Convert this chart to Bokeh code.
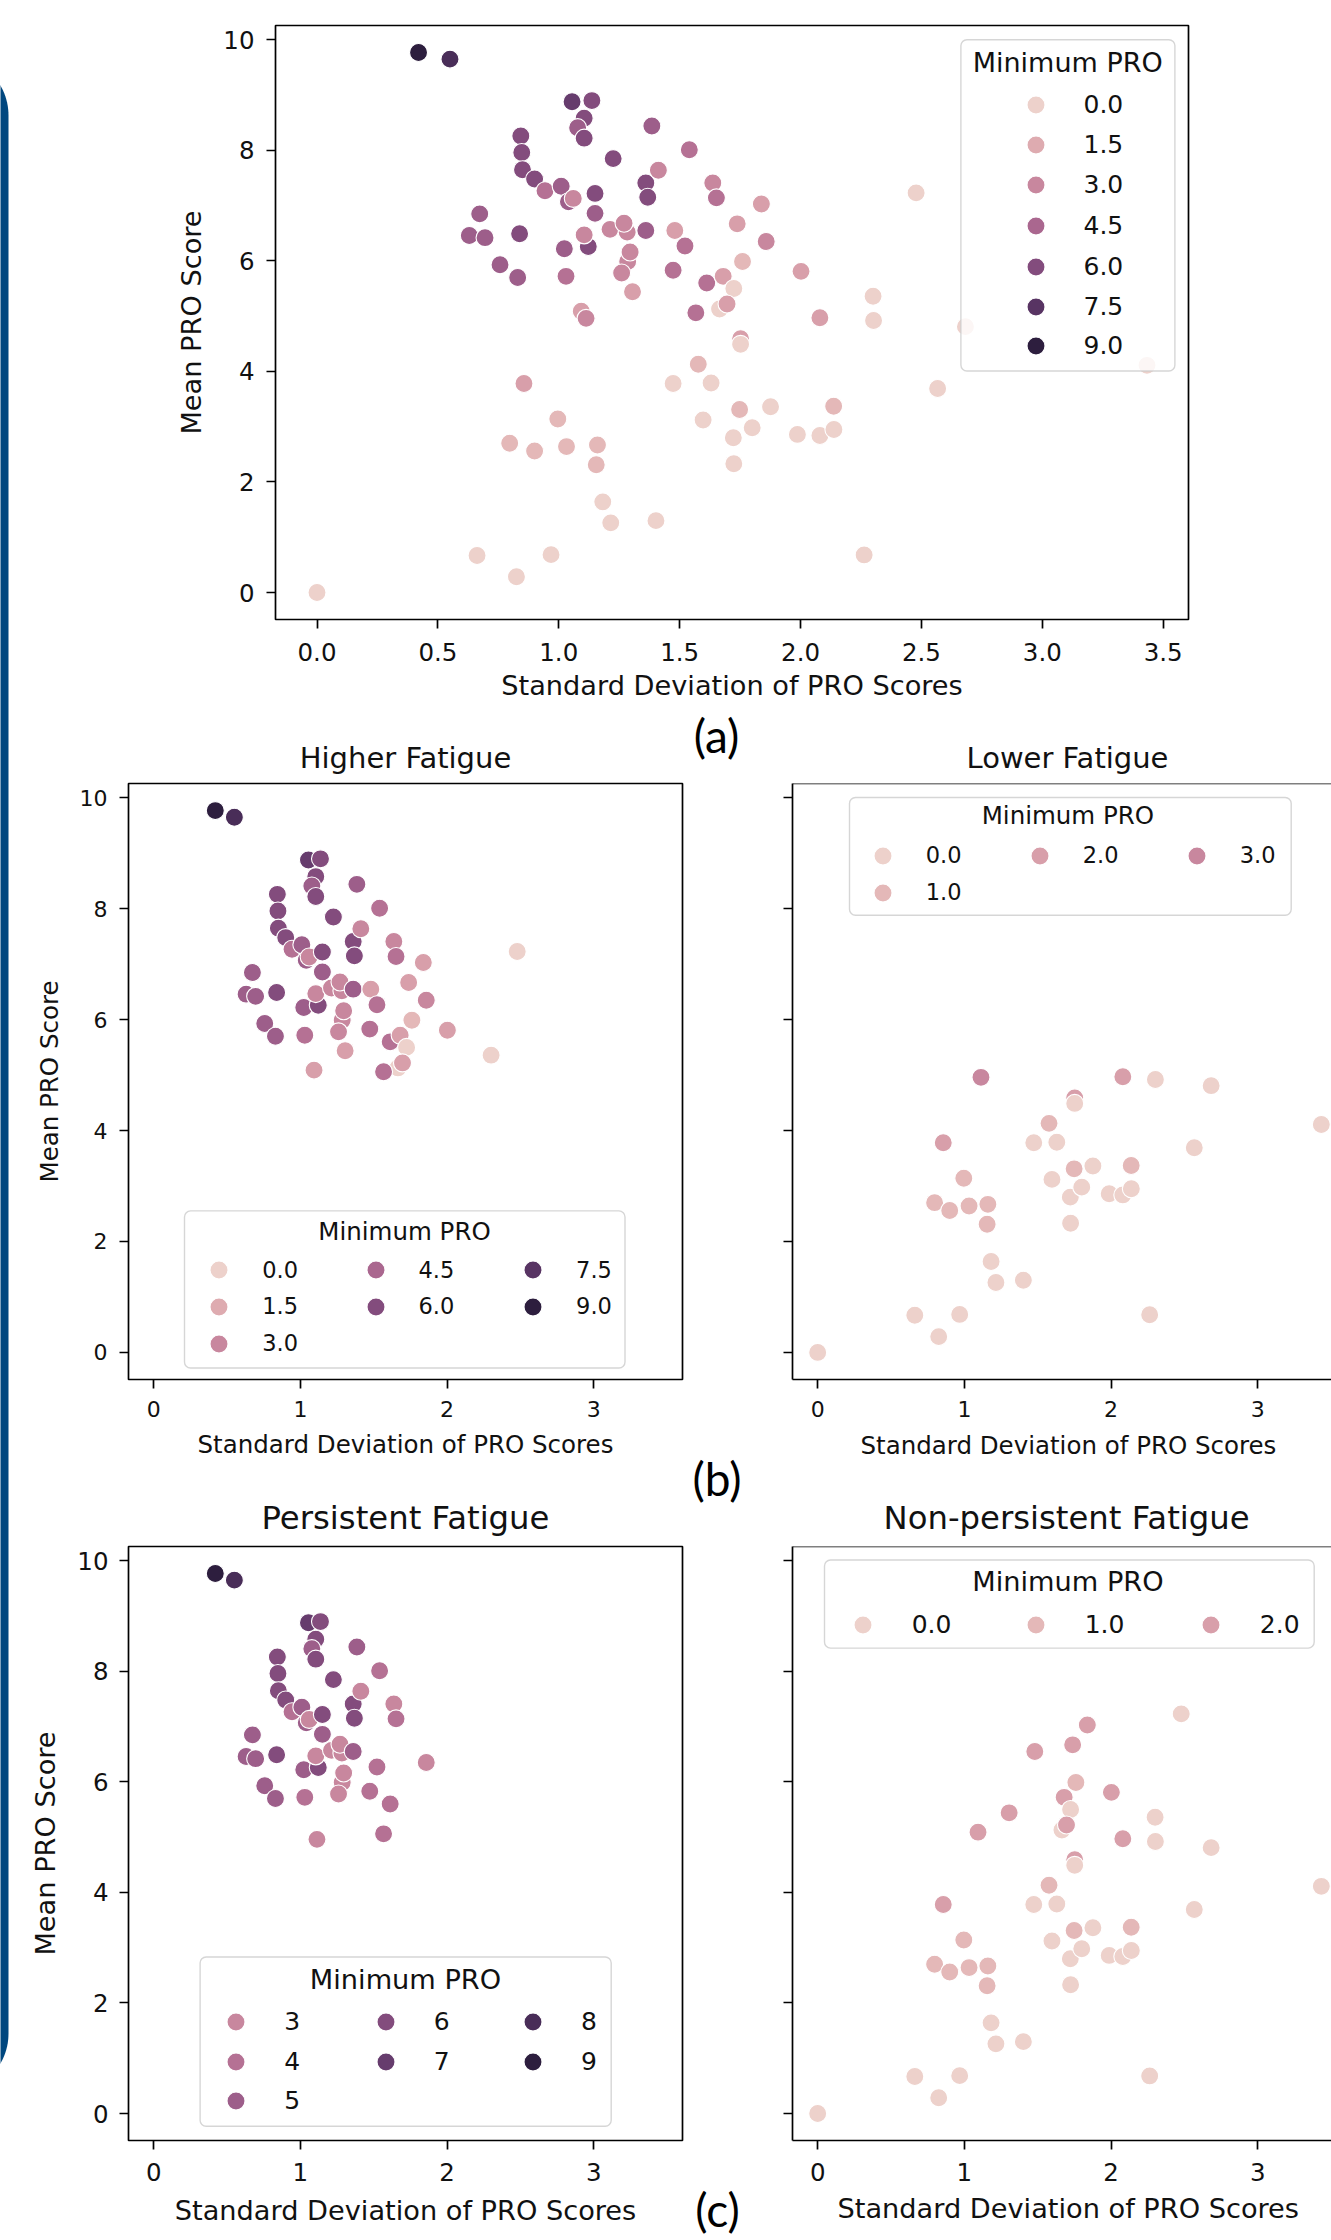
import numpy as np
from bokeh.plotting import figure
from bokeh.models import (Range1d, FixedTicker, Legend, LegendItem, Label,
                          BoxAnnotation, Span, ColumnDataSource, Title)
from bokeh.layouts import row, column
from bokeh.embed import file_html
from bokeh.resources import INLINE

# ------------------------------------------------------------------ data
sd_vals = [
    0.000, 0.662, 0.825, 0.968, 1.182, 1.215, 1.402, 2.263,
    0.797, 0.900, 1.032, 1.160, 1.155, 0.996, 0.856, 1.473,
    1.630, 1.577, 1.597, 1.748, 1.876, 1.722, 1.800, 1.724,
    1.987, 2.080, 2.138, 2.137, 2.567, 3.433, 1.752, 1.752,
    2.080, 2.302, 2.682,
    0.420, 0.550, 1.055, 1.137, 1.105, 1.078, 1.105, 0.843,
    0.847, 0.850, 0.900, 0.943, 1.010, 1.040, 1.060, 1.150,
    1.150, 0.673, 0.630, 0.695, 0.838, 0.757, 0.830, 1.023,
    1.122, 1.105, 1.030, 1.093, 1.113, 1.225, 1.212, 1.283,
    1.270, 1.285, 1.295, 1.260, 1.305, 1.360, 1.368, 1.360,
    1.385, 1.412, 1.540, 1.480, 1.522, 1.473, 1.637, 1.652,
    1.838, 1.738, 1.858, 1.760, 2.002, 1.612, 1.680, 1.724,
    1.665, 1.696, 1.567, 2.300, 2.478,
]
mean_vals = [
    0.00, 0.67, 0.285, 0.685, 1.64, 1.26, 1.30, 0.68,
    2.70, 2.56, 2.64, 2.67, 2.31, 3.14, 3.78, 3.78,
    3.79, 4.13, 3.12, 3.31, 3.36, 2.80, 2.98, 2.33,
    2.86, 2.84, 2.95, 3.37, 3.69, 4.11, 4.59, 4.49,
    4.97, 4.92, 4.81,
    9.77, 9.65, 8.88, 8.90, 8.58, 8.41, 8.22, 8.26,
    7.96, 7.65, 7.48, 7.27, 7.35, 7.07, 7.13, 7.22,
    6.86, 6.85, 6.46, 6.42, 6.49, 5.93, 5.70, 6.22,
    6.26, 6.47, 5.72, 5.09, 4.96, 7.85, 6.57, 6.52,
    6.68, 5.99, 6.16, 5.78, 5.44, 7.41, 7.15, 6.55,
    8.44, 7.64, 8.01, 6.55, 6.27, 5.83, 7.41, 7.14,
    7.03, 6.67, 6.35, 5.99, 5.81, 5.60, 5.72, 5.50,
    5.13, 5.22, 5.06, 5.36, 7.23,
]
min_vals = [
    0, 0, 0, 0, 0, 0, 0, 0,
    1, 1, 1, 1, 1, 1, 2, 0,
    0, 1, 0, 1, 0, 0, 0, 0,
    0, 0, 0, 1, 0, 0, 2, 0,
    2, 0, 0,
    9, 8, 7, 6, 6, 5, 6, 6,
    6, 6, 6, 4, 5, 5, 3, 6,
    5, 5, 5, 5, 6, 5, 5, 5,
    6, 3, 4, 2, 3, 6, 3, 3,
    3, 3, 3, 3, 2, 6, 6, 5,
    5, 3, 4, 2, 4, 4, 3, 4,
    2, 2, 3, 1, 2, 4, 2, 0,
    0, 2, 4, 0, 0,
]

HUE_NORM = (0.0, 9.0)
HIGHER_CUT = 5.0      # mean PRO score splitting higher / lower fatigue
PERSIST_CUT = 3       # minimum PRO score for persistent fatigue

x_ticks_a = [0.0, 0.5, 1.0, 1.5, 2.0, 2.5, 3.0, 3.5]
x_tick_labels_a = ["0.0", "0.5", "1.0", "1.5", "2.0", "2.5", "3.0", "3.5"]
x_ticks_bc = [0, 1, 2, 3]
x_tick_labels_bc = ["0", "1", "2", "3"]
y_ticks = [0, 2, 4, 6, 8, 10]
y_tick_labels = ["0", "2", "4", "6", "8", "10"]

legend_vals_full = [0.0, 1.5, 3.0, 4.5, 6.0, 7.5, 9.0]
legend_labels_full = ["0.0", "1.5", "3.0", "4.5", "6.0", "7.5", "9.0"]
legend_vals_lower = [0.0, 1.0, 2.0, 3.0]
legend_labels_lower = ["0.0", "1.0", "2.0", "3.0"]
legend_vals_persist = [3, 4, 5, 6, 7, 8, 9]
legend_labels_persist = ["3", "4", "5", "6", "7", "8", "9"]
legend_vals_nonpersist = [0.0, 1.0, 2.0]
legend_labels_nonpersist = ["0.0", "1.0", "2.0"]

x_label = "Standard Deviation of PRO Scores"
y_label = "Mean PRO Score"
legend_title = "Minimum PRO"
title_higher, title_lower = "Higher Fatigue", "Lower Fatigue"
title_persist, title_nonpersist = "Persistent Fatigue", "Non-persistent Fatigue"
panel_tags = ["(a)", "(b)", "(c)"]

# ------------------------------------------------------------------ style
FONT = "DejaVu Sans"
TAG_FONT = "Lato"
TXT = "#111111"
MS, MLW = 18, 1.1
LW = 1.7
GH = 45


def ch_hex(v):
    """seaborn default sequential cubehelix ('ch:') palette."""
    t = (v - HUE_NORM[0]) / (HUE_NORM[1] - HUE_NORM[0])
    x = 0.85 + (0.15 - 0.85) * t
    a = 0.8 * x * (1 - x) / 2
    phi = 2 * np.pi * (0.4 * x)
    c, s = np.cos(phi), np.sin(phi)
    rgb = (x + a * (-0.14861 * c + 1.78277 * s),
           x + a * (-0.29227 * c - 0.90649 * s),
           x + a * (1.97294 * c))
    return "#%02x%02x%02x" % tuple(int(round(255 * min(1, max(0, u)))) for u in rgb)


sd = np.array(sd_vals, float)
mn = np.array(mean_vals, float)
mi = np.array(min_vals, float)
colors = np.array([ch_hex(v) for v in mi])


def pad(a):
    lo, hi = a.min(), a.max()
    d = 0.05 * (hi - lo)
    return (lo - d, hi + d)


XR = pad(sd)
YR = pad(mn)
XR_CLIP = (XR[0], XR[0] + 539 * (XR[1] - XR[0]) / 554)

# page geometry (pixels): figure box and plot frame
G = {
    "a": dict(left=26, top=0, w=1305, h=708, fl=275, ft=25, fw=913, fh=594, xr=XR),
    "bl": dict(left=26, top=708, w=660, h=778, fl=128, ft=783, fw=554, fh=596, xr=XR),
    "br": dict(left=760, top=708, w=571, h=778, fl=792, ft=783, fw=539, fh=596, xr=XR_CLIP),
    "cl": dict(left=26, top=1486, w=660, h=754, fl=128, ft=1546, fw=554, fh=594, xr=XR),
    "cr": dict(left=760, top=1486, w=571, h=754, fl=792, ft=1546, fw=539, fh=594, xr=XR_CLIP),
}
STY = {
    "a": dict(tick=24.5, lab=27.2, xts=14, yts=12, xls=6, yls=13, title=0, tso=8, rls=0),
    "b": dict(tick=22, lab=24.5, xts=12, yts=12, xls=10, yls=13, title=29, tso=18, rls=18),
    "c": dict(tick=24.5, lab=27.2, xts=13, yts=11, xls=11, yls=13, title=32.3, tso=20, rls=15),
}


def px2x(g, px):
    x0, x1 = g["xr"]
    return x0 + (px - g["fl"]) * (x1 - x0) / g["fw"]


def px2y(g, py):
    return YR[1] - (py - g["ft"]) * (YR[1] - YR[0]) / g["fh"]


def style_axis(ax, st, ticks, labels, standoff, show_labels=True, line=False):
    ax.ticker = FixedTicker(ticks=ticks)
    ax.major_tick_line_color = "black"
    ax.major_tick_line_width = LW
    ax.major_tick_out = 9
    ax.major_tick_in = 0
    ax.minor_tick_line_color = None
    ax.axis_line_color = "black" if line else None
    ax.axis_line_width = LW
    ax.major_label_text_font = FONT
    ax.major_label_text_font_size = f"{st['tick']}px"
    if show_labels:
        ax.major_label_overrides = {t: l for t, l in zip(ticks, labels)}
        ax.major_label_text_color = TXT
        ax.major_label_standoff = standoff
    else:
        ax.major_label_overrides = {t: "" for t in ticks}
        ax.major_label_text_color = None
        ax.major_label_standoff = 0
    ax.axis_label_text_font = FONT
    ax.axis_label_text_font_style = "normal"
    ax.axis_label_text_color = TXT
    ax.axis_label_text_font_size = f"{st['lab']}px"


def panel(key, skey, mask, xticks, xlabels, left_side, title=None,
          title_offset=0, xlabel_offset=0):
    g, st = G[key], STY[skey]
    ml = g["fl"] - g["left"]
    mt = g["ft"] - g["top"]
    p = figure(width=g["w"], height=g["h"], output_backend="svg", toolbar_location=None,
               x_range=Range1d(*g["xr"]), y_range=Range1d(*YR),
               min_border_left=ml, min_border_right=g["w"] - ml - g["fw"],
               min_border_top=mt, min_border_bottom=g["h"] - mt - g["fh"])
    p.xgrid.visible = False
    p.ygrid.visible = False
    p.background_fill_color = "white"
    p.border_fill_color = "white"
    if title:
        p.title.text = title
        p.title.align = "center" if left_side else "left"
        p.title.offset = title_offset
        p.title.standoff = st["tso"]
        p.title.text_font = FONT
        p.title.text_font_size = f"{st['title']}px"
        p.title.text_font_style = "normal"
        p.title.text_color = TXT
    xa, ya = p.xaxis[0], p.yaxis[0]
    if left_side:
        p.outline_line_color = "black"
        p.outline_line_width = LW
        p.outline_line_alpha = 1.0
        style_axis(xa, st, xticks, xlabels, st["xts"])
        style_axis(ya, st, y_ticks, y_tick_labels, st["yts"])
        xa.axis_label = x_label
        xa.axis_label_standoff = st["xls"]
        ya.axis_label = y_label
        ya.axis_label_standoff = st["yls"]
    else:
        p.outline_line_color = None
        style_axis(xa, st, xticks, xlabels, st["xts"], line=True)
        style_axis(ya, st, y_ticks, y_tick_labels, 0, show_labels=False, line=True)
        p.add_layout(Span(location=YR[1], dimension="width", line_color="black", line_width=LW))
        p.add_layout(Title(text=x_label, align="left", offset=xlabel_offset, standoff=st["rls"],
                           text_font=FONT, text_font_size=f"{st['lab']}px",
                           text_font_style="normal", text_color=TXT), "below")
    idx = np.where(mask)[0]
    src = ColumnDataSource(dict(x=sd[idx], y=mn[idx], c=list(colors[idx])))
    p.scatter("x", "y", source=src, size=MS, fill_color="c", line_color="white", line_width=MLW)
    return p


def add_legend(p, key, vals, labels, spec):
    g = G[key]
    x0, y0, x1, y1 = spec["box"]
    box = BoxAnnotation(left=px2x(g, x0), right=px2x(g, x1), top=px2y(g, y0), bottom=px2y(g, y1),
                        fill_color="white", fill_alpha=0.8, line_color="#cccccc",
                        line_alpha=0.8, line_width=1.4)
    try:
        box.border_radius = 6
    except Exception:
        pass
    p.add_layout(box)
    fb = g["ft"] + g["fh"]
    for ci, idxs in enumerate(spec["cols"]):
        for ri, i in enumerate(idxs):
            cx, cy = spec["marker_x"][ci], spec["rows"][ri]
            proxy = p.scatter(x=np.array([np.nan]), y=np.array([np.nan]), size=MS,
                              fill_color=ch_hex(vals[i]), line_color="white", line_width=MLW)
            leg = Legend(items=[LegendItem(label=labels[i], renderers=[proxy])],
                         location=(cx - GH / 2 - g["fl"], fb - (cy + GH / 2)),
                         orientation="vertical",
                         glyph_width=GH, glyph_height=GH, label_height=GH, label_width=10,
                         label_standoff=spec["standoff"], spacing=0, padding=0, margin=0,
                         border_line_color=None, background_fill_alpha=0.0,
                         label_text_font=FONT, label_text_font_size=f"{spec['font']}px",
                         label_text_color=TXT)
            p.add_layout(leg, "center")
    tx, ty = spec["title_xy"]
    p.add_layout(Label(x=px2x(g, tx), y=px2y(g, ty), text=legend_title,
                       text_align="center", text_baseline="middle", text_font=FONT,
                       text_font_size=f"{spec['title_font']}px", text_color=TXT))


all_mask = np.ones(len(sd), bool)
higher = mn >= HIGHER_CUT
persist = mi >= PERSIST_CUT

pa = panel("a", "a", all_mask, x_ticks_a, x_tick_labels_a, True)
add_legend(pa, "a", legend_vals_full, legend_labels_full, dict(
    box=(960.4, 39.3, 1174.4, 370.5), cols=[[0, 1, 2, 3, 4, 5, 6]], marker_x=[1035],
    rows=[104, 144.2, 184.4, 225.4, 266.5, 306.7, 345], standoff=26, font=25,
    title_xy=(1067.2, 61.6), title_font=27))

pbl = panel("bl", "b", higher, x_ticks_bc, x_tick_labels_bc, True, title=title_higher)
add_legend(pbl, "bl", legend_vals_full, legend_labels_full, dict(
    box=(184, 1210.4, 624.5, 1367.5), cols=[[0, 1, 2], [3, 4], [5, 6]],
    marker_x=[218.8, 375, 532.6], rows=[1269.6, 1306.2, 1343.2], standoff=21, font=22.5,
    title_xy=(404, 1230.8), title_font=24.5))

pbr = panel("br", "b", ~higher, x_ticks_bc, x_tick_labels_bc, False, title=title_lower,
            title_offset=174, xlabel_offset=68)
add_legend(pbr, "br", legend_vals_lower, legend_labels_lower, dict(
    box=(849, 797, 1290.7, 914.7), cols=[[0, 1], [2], [3]],
    marker_x=[882.3, 1039.2, 1196.2], rows=[855.1, 892.4], standoff=21, font=22.5,
    title_xy=(1067.4, 815.4), title_font=24.5))

pcl = panel("cl", "c", persist, x_ticks_bc, x_tick_labels_bc, True, title=title_persist)
add_legend(pcl, "cl", legend_vals_persist, legend_labels_persist, dict(
    box=(199.6, 1956.5, 610.7, 2125.7), cols=[[0, 1, 2], [3, 4], [5, 6]],
    marker_x=[235.7, 385.3, 532.6], rows=[2021.2, 2061, 2100.8], standoff=26, font=25,
    title_xy=(405, 1978.9), title_font=27.2))

pcr = panel("cr", "c", ~persist, x_ticks_bc, x_tick_labels_bc, False, title=title_nonpersist,
            title_offset=91, xlabel_offset=45)
add_legend(pcr, "cr", legend_vals_nonpersist, legend_labels_nonpersist, dict(
    box=(824, 1559.5, 1313.7, 1647.6), cols=[[0], [1], [2]],
    marker_x=[862.2, 1035.2, 1210.3], rows=[1624.2], standoff=27, font=25,
    title_xy=(1067.4, 1580.9), title_font=27.2))

# strip between the left and right columns carrying the (a)/(b)/(c) tags
mid = figure(width=74, height=1532, output_backend="svg", toolbar_location=None,
             x_range=Range1d(686, 760), y_range=Range1d(2240, 708), min_border=0,
             x_axis_location=None, y_axis_location=None)
mid.grid.visible = False
mid.outline_line_color = None
for tag, (tx, ty) in zip(panel_tags, [(716, 734.5), (716.5, 1477.5), (717, 2209)]):
    mid.add_layout(Label(x=tx, y=ty, text=tag, text_align="center", text_baseline="middle",
                         text_font=TAG_FONT, text_font_size="46px", text_color="black"))

# decorative slide edge (blue rounded bar at far left)
bar = figure(width=26, height=2240, output_backend="svg", toolbar_location=None,
             x_range=Range1d(0, 26), y_range=Range1d(2240, 0), min_border=0,
             x_axis_location=None, y_axis_location=None)
bar.grid.visible = False
bar.outline_line_color = None
R, xr_edge, ytop, ybot = 60.0, 8.0, 55.0, 2093.0
th = np.linspace(0, np.pi / 2, 30)
bx = np.concatenate([[-100], xr_edge - R + R * np.sin(th), xr_edge - R + R * np.cos(th), [-100]])
by = np.concatenate([[ytop], ytop + R - R * np.cos(th), ybot - R + R * np.sin(th), [ybot]])
bar.patch(bx, by, fill_color="#00477f", line_color=None)

layout = row(bar,
             column(pa,
                    row(column(pbl, pcl, spacing=0), mid, column(pbr, pcr, spacing=0), spacing=0),
                    spacing=0),
             spacing=0)
open("out.html", "w").write(file_html(layout, INLINE))
